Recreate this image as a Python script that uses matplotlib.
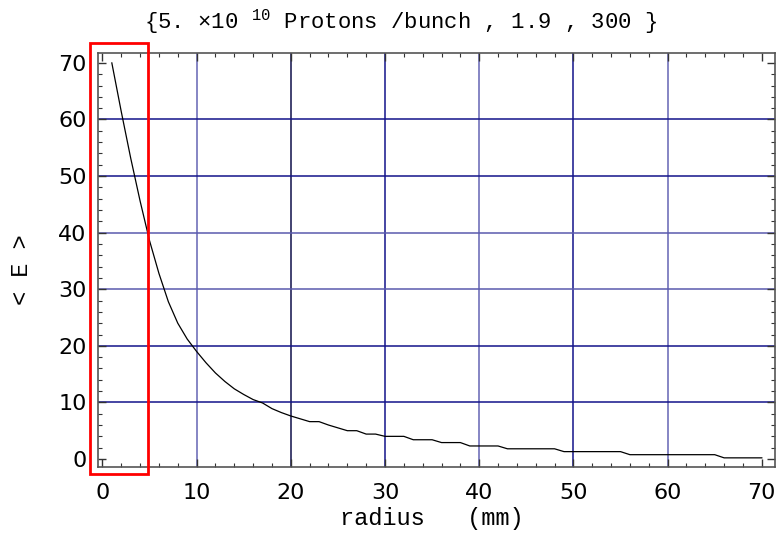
import numpy as np
import matplotlib
matplotlib.use("Agg")
import matplotlib.pyplot as plt
from matplotlib.patches import Rectangle

# radius (mm) and <E>
radius = list(range(1, 71))
energy = [70.0, 61.4, 53.2, 45.6, 38.6, 32.8, 27.8, 24.0, 21.2, 19.0,
          17.0, 15.2, 13.7, 12.4, 11.4, 10.5, 9.9, 8.9, 8.2, 7.6,
          7.1, 6.6, 6.6, 6.0, 5.5, 5.0, 5.0, 4.4, 4.4, 4.0,
          4.0, 4.0, 3.4, 3.4, 3.4, 2.9, 2.9, 2.9, 2.3, 2.3,
          2.3, 2.3, 1.8, 1.8, 1.8, 1.8, 1.8, 1.8, 1.3, 1.3,
          1.3, 1.3, 1.3, 1.3, 1.3, 0.76, 0.76, 0.76, 0.76, 0.76,
          0.76, 0.76, 0.76, 0.76, 0.76, 0.2, 0.2, 0.2, 0.2, 0.2]

x_ticks = [0, 10, 20, 30, 40, 50, 60, 70]
y_ticks = [0, 10, 20, 30, 40, 50, 60, 70]
title_text = "{5. \u00d710 $^{10}$ Protons /bunch , 1.9 , 300 }"
x_label = "radius   (mm)"
y_label = "< E >"

mono = "Liberation Mono"
plt.rcParams["mathtext.fontset"] = "custom"
plt.rcParams["mathtext.rm"] = mono

W, H = 778, 539
fig = plt.figure(figsize=(W / 100, H / 100), dpi=100)
ax = fig.add_axes([97.7 / W, 1 - 467.3 / H, (775 - 97.7) / W, (467.3 - 53.3) / H])

ax.set_xlim(-0.5, 71.4)
ax.set_ylim(-1.47, 71.7)

# grid lines (Mathematica render gives them slightly different shades)
vcols = {10: "#6464b4", 20: "#10104a", 30: "#14148a", 40: "#6464b4",
         50: "#14148a", 60: "#6464b4"}
hcols = {10: "#14148a", 20: "#14148a", 30: "#5a5aae", 40: "#5a5aae",
         50: "#14148a", 60: "#14148a"}
for v in x_ticks[1:-1]:
    ax.axvline(v, color=vcols[v], lw=1.1, zorder=1)
for v in y_ticks[1:-1]:
    ax.axhline(v, color=hcols[v], lw=1.1, zorder=1)

ax.plot(radius, energy, color="black", lw=0.9, zorder=3)

ax.set_xticks(x_ticks)
ax.set_yticks(y_ticks)
ax.set_xticks(np.arange(0, 72, 2), minor=True)
ax.set_yticks(np.arange(0, 72, 2), minor=True)
ax.tick_params(which="both", direction="in", top=True, right=True, color="#333333")
ax.tick_params(which="major", length=6, width=1, labelsize=16)
ax.tick_params(axis="x", which="major", pad=11)
ax.tick_params(axis="y", which="major", pad=8)
ax.tick_params(which="minor", length=3, width=0.8)
for s in ax.spines.values():
    s.set_color("#555555")
    s.set_linewidth(1.2)

fig.text(401 / W, 1 - 22 / H, title_text, family=mono, fontsize=16,
         ha="center", va="center")
fig.text(432 / W, 1 - 519 / H, x_label, family=mono, fontsize=17,
         ha="center", va="center")
fig.text(22 / W, 1 - 270 / H, y_label, family=mono, fontsize=17,
         ha="center", va="center", rotation=90)

# red highlight box
ax.add_patch(Rectangle((-1.33, -2.7), 6.19, 76.3, fill=False, edgecolor="red",
                       lw=2, clip_on=False, zorder=5))

fig.savefig("out.png", dpi=100)
